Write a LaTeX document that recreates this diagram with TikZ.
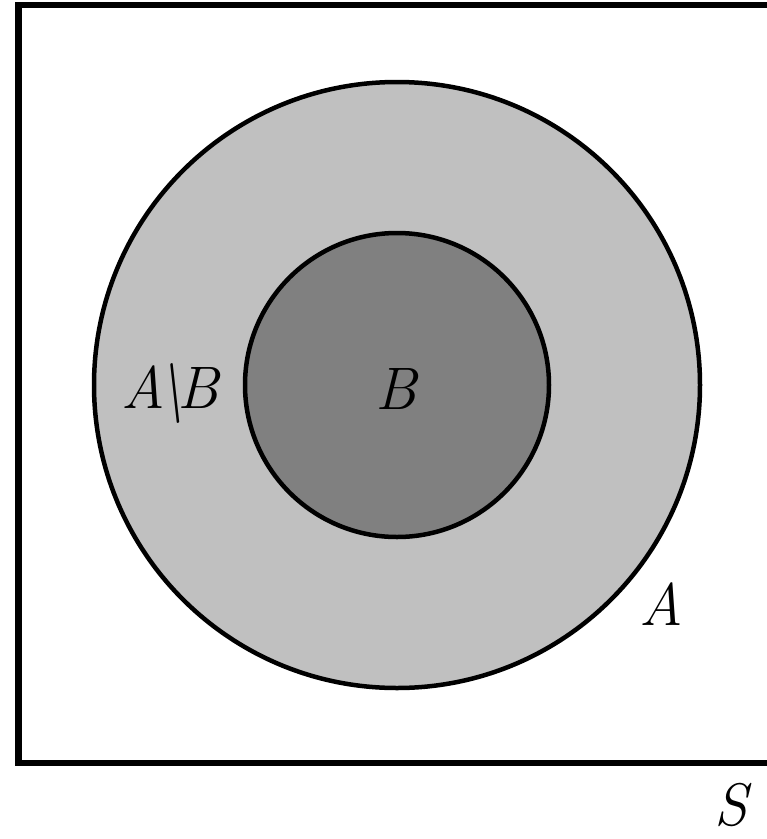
\documentclass[tikz,border=0pt]{standalone}
\usepackage{fontspec}
\begin{document}
\begin{tikzpicture}[x=1pt,y=-1pt,
  lbl/.style={font=\fontsize{60}{66}\selectfont\itshape, inner sep=0pt, anchor=base}]
\useasboundingbox (0,0) rectangle (767,839);
\fill[white] (0,0) rectangle (767,839);
\coordinate (c) at (397,385);
\fill[fill={rgb,255:red,192;green,192;blue,192}] (c) circle (303);
\draw[line width=4.5pt] (c) circle (303);
\fill[fill={rgb,255:red,128;green,128;blue,128}] (c) circle (152);
\draw[line width=4.5pt] (c) circle (152);
\draw[line width=6.5pt, line join=miter] (767,5) -- (18.5,5) -- (18.5,763) -- (767,763);
\node[lbl] (lb) at (396,409) {B};
\node[lbl] (lamb) at (170,408) {A\kern-0.14em\textbackslash\kern-0.16em B};
\node[lbl] (la) at (661,625) {A};
\node[lbl] (ls) at (731,825) {S};
\end{tikzpicture}
\end{document}
